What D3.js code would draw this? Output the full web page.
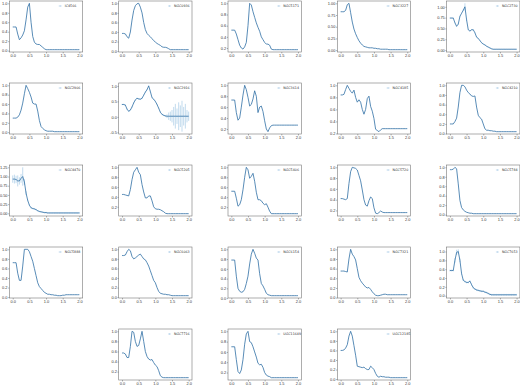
<!DOCTYPE html>
<html><head><meta charset="utf-8">
<script src="https://cdn.jsdelivr.net/npm/d3@7"></script>
<style>body{margin:0;background:#fff}svg{display:block}</style>
</head><body>
<svg id="c" width="520" height="387"></svg>
<script>
const xs = [0.00,0.05,0.10,0.15,0.20,0.25,0.30,0.35,0.40,0.45,0.50,0.55,0.60,0.65,0.70,0.75,0.80,0.85,0.90,0.95,1.00,
            1.05,1.10,1.15,1.20,1.25,1.30,1.35,1.40,1.45,1.50,1.55,1.60,1.65,1.70,1.75,1.80,1.85,1.90,1.95,2.00];
const xTickLabels = ["0.0","0.5","1.0","1.5","2.0"];

const names = ["IC4566","NGC0936","NGC5171","NGC3227","NGC2730",
               "NGC2906","NGC2916","NGC3614","NGC4185","NGC4210",
               "NGC4470","NGC5205","NGC5406","NGC5720","NGC5784",
               "NGC5888","NGC6063","NGC6154","NGC7321","NGC7653",
               "NGC7716","UGC11649","UGC12185"];

const sIC4566  = [0.50,0.50,0.50,0.35,0.23,0.27,0.33,0.42,0.65,0.92,1.00,0.60,0.30,0.18,0.14,0.13,0.13,0.10,0.07,0.04,0.02,0.02,0.02,0.02,0.02,0.02,0.02,0.02,0.02,0.02,0.02,0.02,0.02,0.02,0.02,0.02,0.02,0.02,0.02,0.02,0.02];
const sNGC0936 = [0.37,0.37,0.36,0.30,0.27,0.40,0.65,0.85,0.95,0.99,1.00,0.92,0.80,0.60,0.45,0.37,0.33,0.30,0.26,0.22,0.19,0.16,0.14,0.12,0.09,0.08,0.08,0.07,0.05,0.03,0.03,0.03,0.03,0.03,0.03,0.03,0.03,0.03,0.03,0.03,0.03];
const sNGC5171 = [0.52,0.52,0.52,0.45,0.35,0.25,0.20,0.18,0.22,0.30,0.60,1.00,0.97,0.85,0.75,0.65,0.57,0.50,0.40,0.35,0.30,0.27,0.27,0.25,0.18,0.17,0.17,0.17,0.17,0.17,0.17,0.17,0.17,0.17,0.17,0.17,0.17,0.17,0.17,0.17,0.17];
const sNGC3227 = [0.82,0.82,0.82,0.85,0.97,1.00,0.80,0.60,0.45,0.35,0.27,0.20,0.15,0.11,0.08,0.07,0.06,0.05,0.05,0.05,0.04,0.04,0.03,0.03,0.02,0.02,0.02,0.02,0.02,0.01,0.01,0.01,0.01,0.01,0.01,0.01,0.01,0.01,0.01,0.01,0.01];
const sNGC2730 = [0.74,0.74,0.74,0.63,0.55,0.60,0.78,0.85,0.92,1.00,0.70,0.47,0.44,0.47,0.47,0.40,0.30,0.27,0.22,0.17,0.14,0.12,0.09,0.07,0.05,0.03,0.02,0.02,0.02,0.02,0.02,0.02,0.02,0.02,0.02,0.02,0.02,0.02,0.02,0.02,0.02];
const sNGC2906 = [0.30,0.30,0.30,0.32,0.37,0.47,0.62,0.82,1.00,0.93,0.85,0.75,0.62,0.60,0.60,0.45,0.25,0.12,0.08,0.05,0.03,0.02,0.02,0.02,0.02,0.01,0.01,0.01,0.01,0.01,0.01,0.01,0.01,0.01,0.01,0.01,0.01,0.01,0.01,0.01,0.01];
const sNGC2916 = [0.40,0.40,0.38,0.25,0.18,0.22,0.32,0.45,0.55,0.60,0.58,0.57,0.60,0.70,0.80,0.88,1.00,0.82,0.62,0.57,0.50,0.40,0.28,0.15,0.08,0.05,0.03,0.02,0.02,0.02,0.02,0.02,0.02,0.02,0.02,0.02,0.02,0.02,0.02,0.02,0.02];
const sNGC3614 = [0.73,0.73,0.73,0.50,0.36,0.40,0.60,0.82,1.00,0.92,0.78,0.62,0.65,0.75,0.90,0.80,0.50,0.60,0.62,0.52,0.35,0.20,0.15,0.22,0.26,0.27,0.27,0.27,0.27,0.27,0.27,0.27,0.27,0.27,0.27,0.27,0.27,0.27,0.27,0.27,0.27];
const sNGC4185 = [0.84,0.84,0.85,0.93,1.00,0.95,0.90,0.87,0.92,0.80,0.72,0.76,0.72,0.60,0.52,0.60,0.78,0.82,0.65,0.57,0.45,0.27,0.25,0.23,0.26,0.28,0.28,0.28,0.28,0.28,0.28,0.28,0.28,0.28,0.28,0.28,0.28,0.28,0.28,0.28,0.28];
const sNGC4210 = [0.20,0.20,0.20,0.25,0.32,0.55,0.85,1.00,1.00,0.97,0.90,0.85,0.82,0.78,0.77,0.78,0.55,0.38,0.33,0.30,0.20,0.10,0.07,0.07,0.06,0.06,0.05,0.05,0.04,0.04,0.04,0.04,0.04,0.04,0.04,0.04,0.04,0.04,0.04,0.04,0.04];
const sNGC4470 = [0.93,0.93,0.92,0.88,0.88,0.95,1.00,0.85,0.55,0.35,0.22,0.15,0.13,0.12,0.10,0.07,0.05,0.04,0.03,0.02,0.02,0.01,0.01,0.01,0.01,0.01,0.01,0.01,0.01,0.01,0.01,0.01,0.01,0.01,0.01,0.01,0.01,0.01,0.01,0.01,0.01];
const sNGC5205 = [0.45,0.45,0.44,0.43,0.42,0.55,0.75,0.90,0.95,1.00,0.90,0.85,0.65,0.50,0.38,0.38,0.42,0.42,0.32,0.20,0.16,0.15,0.15,0.14,0.12,0.10,0.07,0.06,0.06,0.06,0.06,0.06,0.06,0.06,0.06,0.06,0.06,0.06,0.06,0.06,0.06];
const sNGC5406 = [0.52,0.52,0.52,0.38,0.22,0.25,0.35,0.55,0.80,1.00,0.95,0.78,0.82,0.88,0.72,0.50,0.35,0.35,0.33,0.28,0.25,0.27,0.20,0.12,0.07,0.07,0.07,0.07,0.07,0.07,0.07,0.07,0.07,0.07,0.07,0.07,0.07,0.07,0.07,0.07,0.07];
const sNGC5720 = [0.42,0.42,0.41,0.40,0.42,0.70,0.92,1.00,0.99,0.98,0.95,0.85,0.75,0.58,0.40,0.30,0.28,0.38,0.45,0.42,0.25,0.15,0.14,0.16,0.19,0.17,0.16,0.16,0.16,0.16,0.16,0.16,0.16,0.16,0.16,0.16,0.16,0.16,0.16,0.16,0.16];
const sNGC5784 = [0.95,0.95,0.96,1.00,0.97,0.65,0.30,0.15,0.10,0.07,0.05,0.04,0.03,0.03,0.02,0.02,0.02,0.02,0.02,0.02,0.02,0.02,0.02,0.02,0.02,0.02,0.02,0.02,0.02,0.02,0.02,0.02,0.02,0.02,0.02,0.02,0.02,0.02,0.02,0.02,0.02];
const sNGC5888 = [0.72,0.72,0.72,0.50,0.35,0.35,0.65,1.00,1.00,1.00,0.95,0.85,0.75,0.60,0.45,0.30,0.22,0.18,0.14,0.10,0.08,0.06,0.06,0.05,0.05,0.04,0.04,0.03,0.03,0.03,0.04,0.04,0.05,0.05,0.05,0.05,0.05,0.05,0.05,0.05,0.05];
const sNGC6063 = [0.87,0.87,0.88,0.95,1.00,0.97,0.85,0.80,0.82,0.85,0.88,0.90,0.85,0.80,0.78,0.72,0.65,0.55,0.45,0.35,0.30,0.20,0.12,0.08,0.07,0.06,0.06,0.05,0.05,0.04,0.03,0.03,0.03,0.03,0.03,0.03,0.03,0.03,0.03,0.03,0.03];
const sNGC6154 = [0.78,0.78,0.78,0.45,0.20,0.14,0.12,0.13,0.18,0.30,0.45,0.70,0.90,1.00,0.92,0.82,0.78,0.50,0.30,0.25,0.18,0.10,0.07,0.06,0.05,0.05,0.05,0.05,0.05,0.05,0.05,0.05,0.05,0.05,0.05,0.05,0.05,0.05,0.05,0.05,0.05];
const sNGC7321 = [0.55,0.55,0.55,0.54,0.53,0.80,1.00,0.90,0.85,0.78,0.60,0.42,0.35,0.30,0.26,0.22,0.20,0.21,0.17,0.12,0.08,0.05,0.04,0.04,0.05,0.06,0.07,0.07,0.06,0.06,0.06,0.06,0.06,0.06,0.06,0.06,0.06,0.06,0.06,0.06,0.06];
const sNGC7653 = [0.57,0.57,0.57,0.80,0.98,1.00,0.80,0.50,0.35,0.32,0.30,0.30,0.33,0.25,0.18,0.15,0.13,0.12,0.11,0.10,0.10,0.08,0.07,0.05,0.03,0.02,0.02,0.02,0.02,0.02,0.02,0.02,0.02,0.02,0.02,0.02,0.02,0.02,0.02,0.02,0.02];
const sNGC7716 = [0.57,0.57,0.55,0.48,0.48,0.70,1.00,0.98,0.80,0.70,0.72,0.85,1.00,0.80,0.60,0.50,0.45,0.43,0.44,0.38,0.33,0.30,0.22,0.12,0.09,0.08,0.08,0.08,0.08,0.08,0.08,0.08,0.08,0.08,0.08,0.08,0.08,0.08,0.08,0.08,0.08];
const sUGC11649 = [0.70,0.70,0.70,0.45,0.22,0.18,0.25,0.45,0.75,0.95,1.00,0.80,0.78,0.70,0.60,0.50,0.38,0.35,0.36,0.30,0.20,0.15,0.13,0.12,0.10,0.10,0.10,0.10,0.10,0.10,0.10,0.10,0.10,0.10,0.10,0.10,0.10,0.10,0.10,0.10,0.10];
const sUGC12185 = [0.60,0.60,0.61,0.65,0.72,0.90,1.00,0.90,0.70,0.50,0.27,0.26,0.25,0.24,0.25,0.22,0.20,0.20,0.27,0.24,0.20,0.12,0.06,0.04,0.06,0.05,0.05,0.04,0.04,0.04,0.03,0.03,0.03,0.03,0.03,0.03,0.03,0.03,0.03,0.03,0.03];

// visible error bars
const eNGC2730 = [0.01,0.01,0.01,0.01,0.01,0.01,0.01,0.01,0.02,0.08,0.02,0.01,0.01,0.01,0.01,0.01,0.01,0.01,0.01,0.01,0.01,0.01,0.01,0.01,0.01,0.01,0.01,0.01,0.01,0.01,0.01,0.01,0.01,0.01,0.01,0.01,0.01,0.01,0.01,0.01,0.01];
const eNGC2916 = [0.02,0.02,0.02,0.02,0.02,0.02,0.02,0.02,0.02,0.02,0.02,0.02,0.02,0.02,0.02,0.02,0.02,0.02,0.02,0.02,0.02,0.02,0.02,0.02,0.02,0.02,0.03,0.06,0.12,0.15,0.20,0.30,0.40,0.25,0.45,0.35,0.50,0.30,0.40,0.20,0.15];
const eNGC4470 = [0.10,0.12,0.10,0.15,0.10,0.12,0.25,0.08,0.05,0.02,0.02,0.02,0.02,0.02,0.02,0.02,0.02,0.02,0.02,0.02,0.02,0.02,0.02,0.02,0.02,0.02,0.02,0.02,0.02,0.02,0.02,0.02,0.02,0.02,0.02,0.02,0.02,0.02,0.02,0.02,0.02];
const eNGC7653 = [0.02,0.02,0.02,0.05,0.06,0.05,0.04,0.02,0.02,0.02,0.02,0.02,0.02,0.02,0.02,0.02,0.02,0.02,0.02,0.02,0.02,0.02,0.02,0.02,0.02,0.02,0.02,0.02,0.02,0.02,0.02,0.02,0.02,0.02,0.02,0.02,0.02,0.02,0.02,0.02,0.02];

const series = [sIC4566,sNGC0936,sNGC5171,sNGC3227,sNGC2730,sNGC2906,sNGC2916,sNGC3614,sNGC4185,sNGC4210,
                sNGC4470,sNGC5205,sNGC5406,sNGC5720,sNGC5784,sNGC5888,sNGC6063,sNGC6154,sNGC7321,sNGC7653,
                sNGC7716,sUGC11649,sUGC12185];
const errors = {NGC2730:eNGC2730, NGC2916:eNGC2916, NGC4470:eNGC4470, NGC7653:eNGC7653};

const t02 = ["0.0","0.2","0.4","0.6","0.8","1.0"];
const t02b = ["0.2","0.4","0.6","0.8","1.0"];
const t025 = ["0.00","0.25","0.50","0.75","1.00"];
const t025b = ["0.00","0.25","0.50","0.75","1.00","1.25"];
const t05 = ["-0.5","0.0","0.5","1.0"];
const yTickLabels = [t02,t02,t02b,t025,t025,
                     t02,t05,t02b,t02b,t02,
                     t025b,t02b,t02b,t02b,t02,
                     t02,t02,t02,t02,t02,
                     t02b,t02b,t02];

const svg = d3.select("#c");
const W = 73.3, H = 51, X0 = 9.4, DX = 109.3, Y0 = 1, DY = 82;
const lineCol = "#2f6fa5", errCol = "#a8cbe6";

names.forEach((name, i) => {
  let row, col;
  if (i < 20) { row = Math.floor(i / 5); col = i % 5; } else { row = 4; col = i - 19; }
  const left = X0 + col * DX, top = Y0 + row * DY;
  const vals = series[i];
  const err = errors[name] || null;
  const lo = d3.min(vals, (v, k) => v - (err ? err[k] : 0));
  const hi = d3.max(vals, (v, k) => v + (err ? err[k] : 0));
  const pad = (hi - lo) * 0.05;
  const x = d3.scaleLinear().domain([-0.1, 2.1]).range([0, W]);
  const y = d3.scaleLinear().domain([lo - pad, hi + pad]).range([H, 0]);
  const g = svg.append("g").attr("transform", `translate(${left},${top})`);

  const xAxis = d3.axisBottom(x).tickValues(xTickLabels.map(Number)).tickFormat((d, k) => xTickLabels[k]).tickSize(1.4).tickPadding(1);
  const yAxis = d3.axisLeft(y).tickValues(yTickLabels[i].map(Number)).tickFormat((d, k) => yTickLabels[i][k]).tickSize(1.2).tickPadding(0.7);
  const gx = g.append("g").attr("transform", `translate(0,${H})`).call(xAxis);
  const gy = g.append("g").call(yAxis);
  [gx, gy].forEach(a => {
    a.select(".domain").remove();
    a.selectAll("line").attr("stroke", "#555").attr("stroke-width", 0.5);
    a.selectAll("text").attr("font-family", "Liberation Sans, Arial, sans-serif").attr("font-size", 3.9).attr("fill", "#333");
  });

  if (err) {
    g.append("g").selectAll("line").data(vals).join("line")
      .attr("x1", (v, k) => x(xs[k])).attr("x2", (v, k) => x(xs[k]))
      .attr("y1", (v, k) => y(v - err[k])).attr("y2", (v, k) => y(v + err[k]))
      .attr("stroke", errCol).attr("stroke-width", 0.7);
  }
  const line = d3.line().x((v, k) => x(xs[k])).y(v => y(v));
  g.append("path").datum(vals).attr("d", line).attr("fill", "none")
    .attr("stroke", lineCol).attr("stroke-width", 0.8);

  g.append("rect").attr("x", 0).attr("y", 0).attr("width", W).attr("height", H)
    .attr("fill", "none").attr("stroke", "#777").attr("stroke-width", 0.6);

  // legend
  const lg = g.append("g").attr("transform", `translate(${W - 24},5)`);
  lg.append("line").attr("x1", 0).attr("x2", 3).attr("y1", 0).attr("y2", 0).attr("stroke", errCol).attr("stroke-width", 0.6);
  lg.append("line").attr("x1", 1.5).attr("x2", 1.5).attr("y1", -1).attr("y2", 1).attr("stroke", errCol).attr("stroke-width", 0.5);
  lg.append("text").attr("x", 6).attr("y", 1.2).text(name)
    .attr("font-family", "DejaVu Sans").attr("font-size", 3.3).attr("fill", "#333");
});
</script>
</body></html>
